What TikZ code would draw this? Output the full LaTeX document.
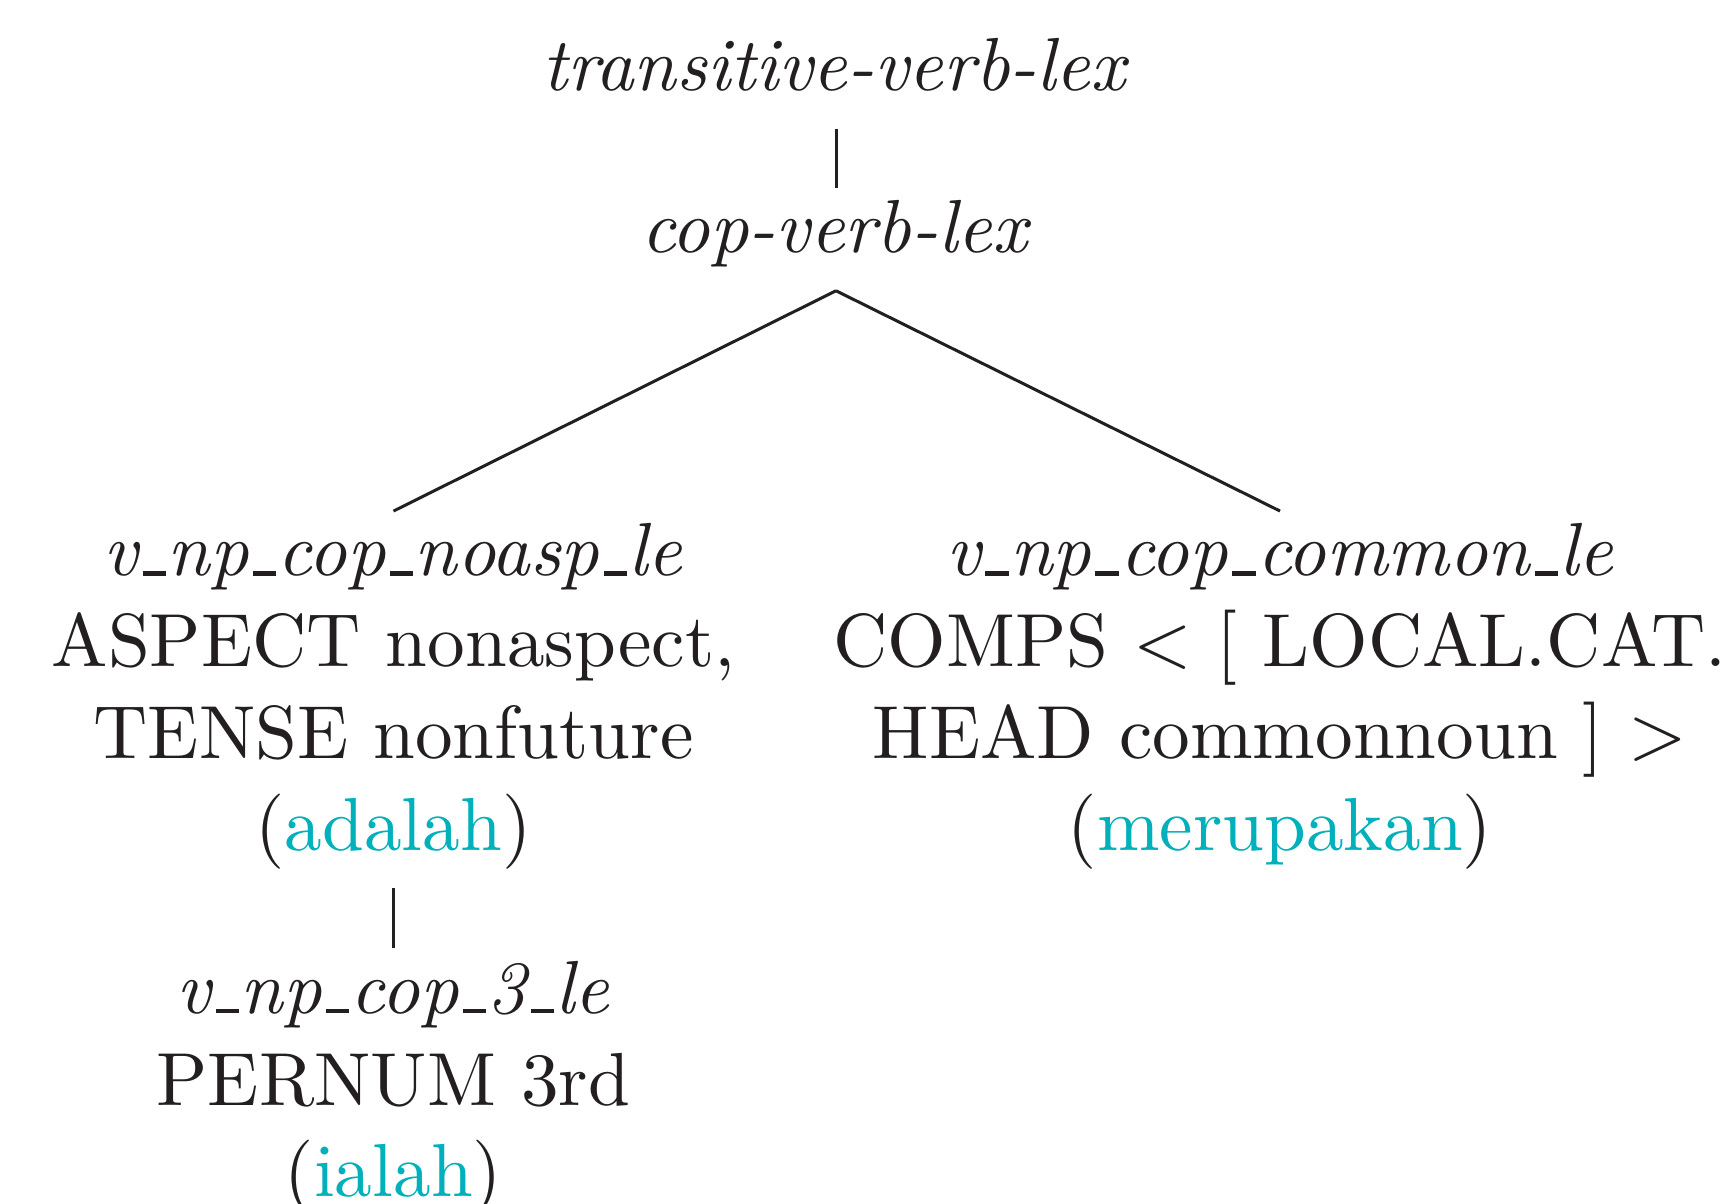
\documentclass[tikz,border=0pt]{standalone}
\definecolor{ink}{RGB}{35,31,32}
\definecolor{wordc}{RGB}{0,176,186}
\newcommand\usc{\leavevmode\kern.06em\vbox{\hrule width.31em height 0.58pt}\kern.02em}
\begin{document}
\begin{tikzpicture}[x=0.13298pt,y=-0.13298pt,
  ln/.style={inner sep=0pt,text height=8.4pt,text depth=4.9pt,anchor=base,text=ink},
  edge/.style={draw=ink,line width=0.4pt}]
\useasboundingbox (0,0) rectangle (1736,1203);
% top
\node[ln] (tv) at (836,90.8) {\textit{transitive-verb-lex}};
\node[ln] (cop) at (836,252.4) {\textit{cop-verb-lex}};
% left branch
\node[ln] (noasp) at (393.5,575.7) {\textit{v\usc np\usc cop\usc noasp\usc le}};
\node[ln] (noaspa) at (393.5,666.5) {ASPECT nonaspect,};
\node[ln] (noaspb) at (393.5,758) {TENSE nonfuture};
\node[ln] (noaspc) at (393.5,850) {(\textcolor{wordc}{adalah})};
\node[ln] (three) at (393.5,1013) {\textit{v\usc np\usc cop\usc 3\usc le}};
\node[ln] (threea) at (393.5,1105) {PERNUM 3rd};
\node[ln] (threeb) at (393.5,1196) {(\textcolor{wordc}{ialah})};
% right branch
\node[ln] (common) at (1280,575.7) {\textit{v\usc np\usc cop\usc common\usc le}};
\node[ln] (commona) at (1280,666.5) {COMPS $<$ [ LOCAL.CAT.};
\node[ln] (commonb) at (1280,758) {HEAD commonnoun ] $>$};
\node[ln] (commonc) at (1280,850) {(\textcolor{wordc}{merupakan})};
% edges
\draw[edge] (tv.south) -- (cop.north);
\draw[edge] (cop.south) -- (noasp.north);
\draw[edge] (cop.south) -- (common.north);
\draw[edge] (noaspc.south) -- (three.north);
\end{tikzpicture}
\end{document}
